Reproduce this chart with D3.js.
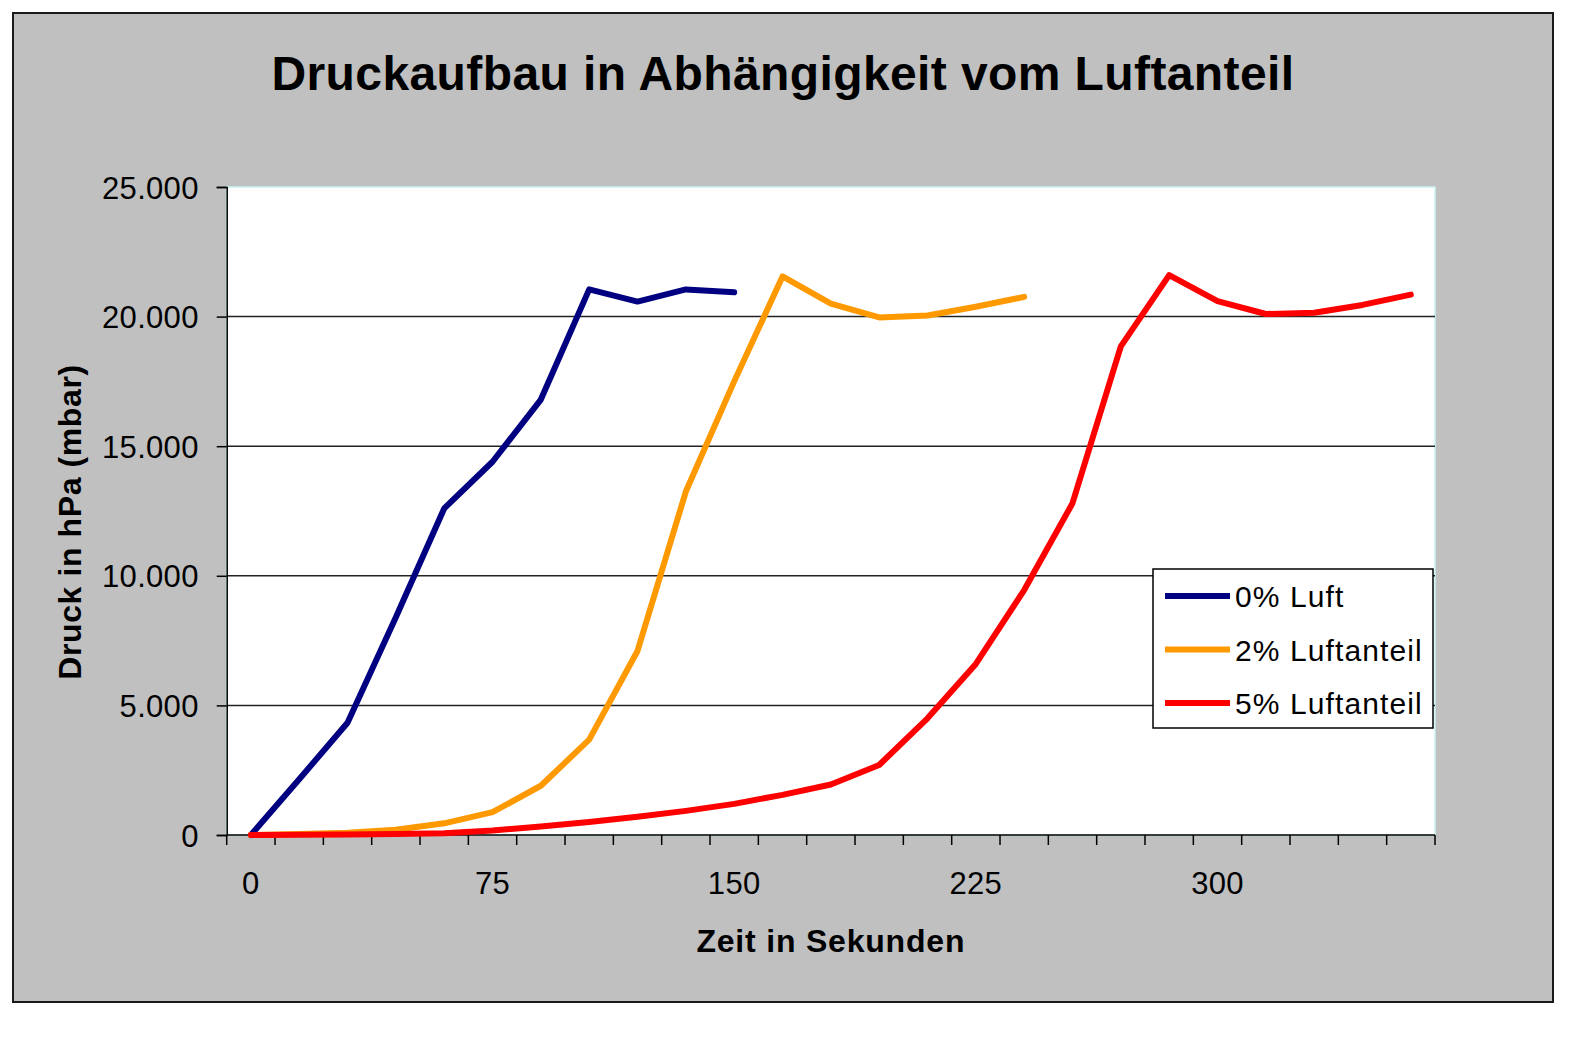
<!DOCTYPE html>
<html>
<head>
<meta charset="utf-8">
<script src="https://cdn.jsdelivr.net/npm/d3@7/dist/d3.min.js"></script>
<style>
  html, body { margin: 0; padding: 0; background: #ffffff; }
  svg { display: block; }
  text { font-family: "Liberation Sans", Arial, sans-serif; fill: #000; }
</style>
</head>
<body>
<svg id="chart" width="1590" height="1040"></svg>
<script>
// ---- data ----
const titleText = "Druckaufbau in Abhängigkeit vom Luftanteil";
const xTitle = "Zeit in Sekunden";
const yTitle = "Druck in hPa (mbar)";
const times = [0, 15, 30, 45, 60, 75, 90, 105, 120, 135, 150, 165, 180, 195, 210, 225, 240, 255, 270, 285, 300, 315, 330, 345, 360];
const xTickLabels = [0, 75, 150, 225, 300];
const yTicks = [0, 5000, 10000, 15000, 20000, 25000];
const seriesNames = ["0% Luft", "2% Luftanteil", "5% Luftanteil"];
const seriesColors = ["#000080", "#FF9900", "#FF0000"];
const luft0 = [0, 2150, 4330, 8400, 12600, 14400, 16800, 21050, 20580, 21050, 20940];
const luft2 = [0, 40, 90, 200, 450, 880, 1900, 3680, 7100, 13250, 17500, 21550, 20500, 19970, 20040, 20380, 20760];
const luft5 = [0, 10, 20, 40, 70, 170, 330, 500, 700, 930, 1200, 1550, 1950, 2700, 4500, 6600, 9450, 12800, 18850, 21600, 20600, 20100, 20150, 20450, 20850];
const seriesValues = [luft0, luft2, luft5];

// ---- layout ----
const svg = d3.select("#chart");
const plot = { left: 226.7, right: 1435, top: 187, bottom: 835 };

// outer chart area
svg.append("rect")
  .attr("x", 13).attr("y", 13).attr("width", 1540).attr("height", 989)
  .attr("fill", "#C0C0C0").attr("stroke", "#1a1a1a").attr("stroke-width", 2);

// plot area
svg.append("rect")
  .attr("x", plot.left).attr("y", plot.top)
  .attr("width", plot.right - plot.left).attr("height", plot.bottom - plot.top)
  .attr("fill", "#ffffff").attr("stroke", "#c8f4f4").attr("stroke-width", 1.5);

const x = d3.scaleBand().domain(times).range([plot.left, plot.right]).padding(0);
const y = d3.scaleLinear().domain([0, 25000]).range([plot.bottom, plot.top]);
const xc = t => x(t) + x.bandwidth() / 2;

const de = d3.formatLocale({ decimal: ",", thousands: ".", grouping: [3], currency: ["", " €"] });
const fmt = de.format(",d");

// gridlines
svg.append("g")
  .selectAll("line")
  .data(yTicks.filter(v => v > 0 && v < 25000))
  .join("line")
  .attr("x1", plot.left).attr("x2", plot.right)
  .attr("y1", d => y(d)).attr("y2", d => y(d))
  .attr("stroke", "#222").attr("stroke-width", 1.5);

// y axis
const yAxis = d3.axisLeft(y).tickValues(yTicks).tickSize(10).tickPadding(18).tickFormat(fmt);
const gy = svg.append("g").attr("transform", `translate(${plot.left},0)`).call(yAxis);
gy.select(".domain").attr("stroke", "#000").attr("stroke-width", 1.5);
gy.selectAll(".tick line").attr("stroke", "#000").attr("stroke-width", 1.5);
gy.selectAll(".tick text")
  .style("font-family", "'Liberation Sans', Arial, sans-serif")
  .style("font-size", "31px").style("letter-spacing", "0.3px")
  .attr("dy", "0.36em").attr("fill", "#000");

// x axis: line, ticks at category boundaries, labels at category centres
svg.append("line")
  .attr("x1", plot.left).attr("x2", plot.right)
  .attr("y1", plot.bottom).attr("y2", plot.bottom)
  .attr("stroke", "#000").attr("stroke-width", 1.5);
const bounds = times.map(t => x(t)).concat([x.range()[1]]);
svg.append("g").selectAll("line").data(bounds).join("line")
  .attr("x1", d => d).attr("x2", d => d)
  .attr("y1", plot.bottom).attr("y2", plot.bottom + 10)
  .attr("stroke", "#000").attr("stroke-width", 1.5);
svg.append("g").selectAll("text").data(xTickLabels).join("text")
  .attr("x", d => xc(d)).attr("y", 894)
  .attr("text-anchor", "middle")
  .style("font-size", "31px").style("letter-spacing", "0.3px")
  .text(d => fmt(d));

// axis titles
svg.append("text")
  .attr("x", (plot.left + plot.right) / 2).attr("y", 952)
  .attr("text-anchor", "middle")
  .style("font-size", "32px").style("font-weight", "bold").style("letter-spacing", "0.8px")
  .text(xTitle);
svg.append("text")
  .attr("transform", `translate(81,${(plot.top + plot.bottom) / 2 + 11}) rotate(-90)`)
  .attr("text-anchor", "middle")
  .style("font-size", "32px").style("font-weight", "bold").style("letter-spacing", "0.6px")
  .text(yTitle);

// title
svg.append("text")
  .attr("x", 783).attr("y", 90)
  .attr("text-anchor", "middle")
  .style("font-size", "48px").style("font-weight", "bold").style("letter-spacing", "0.4px")
  .text(titleText);

// lines
const line = d3.line().x((d, i) => xc(times[i])).y(d => y(d));
svg.append("g").selectAll("path").data(seriesValues).join("path")
  .attr("d", d => line(d))
  .attr("fill", "none")
  .attr("stroke", (d, i) => seriesColors[i])
  .attr("stroke-width", 6)
  .attr("stroke-linejoin", "round")
  .attr("stroke-linecap", "round");

// legend
const lg = svg.append("g");
lg.append("rect")
  .attr("x", 1153).attr("y", 569).attr("width", 280).attr("height", 159)
  .attr("fill", "#fff").attr("stroke", "#000").attr("stroke-width", 1.5);
const items = lg.selectAll("g.item").data(seriesNames).join("g")
  .attr("class", "item")
  .attr("transform", (d, i) => `translate(0,${596 + i * 53.5})`);
items.append("line")
  .attr("x1", 1165).attr("x2", 1230).attr("y1", 0).attr("y2", 0)
  .attr("stroke", (d, i) => seriesColors[i]).attr("stroke-width", 6);
items.append("text")
  .attr("x", 1235).attr("y", 11)
  .style("font-size", "30px").style("letter-spacing", "1.1px")
  .text(d => d);
</script>
</body>
</html>
